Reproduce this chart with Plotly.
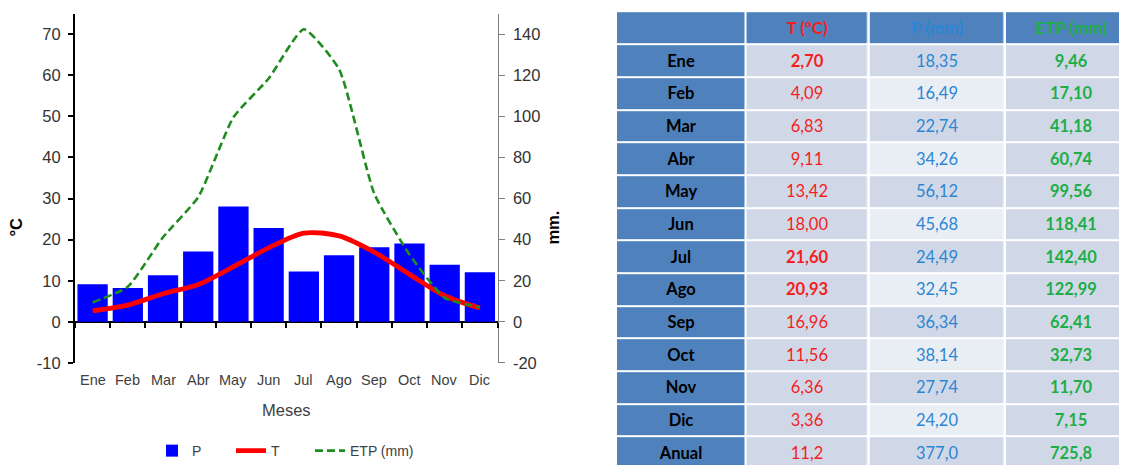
import plotly.graph_objects as go

# ---------------- data ----------------
months = ["Ene", "Feb", "Mar", "Abr", "May", "Jun", "Jul", "Ago", "Sep", "Oct", "Nov", "Dic"]
T = [2.70, 4.09, 6.83, 9.11, 13.42, 18.00, 21.60, 20.93, 16.96, 11.56, 6.36, 3.36]
P = [18.35, 16.49, 22.74, 34.26, 56.12, 45.68, 24.49, 32.45, 36.34, 38.14, 27.74, 24.20]
ETP = [9.46, 17.10, 41.18, 60.74, 99.56, 118.41, 142.40, 122.99, 62.41, 32.73, 11.70, 7.15]
annual_label = "Anual"
annual_T, annual_P, annual_ETP = 11.2, 377.0, 725.8
t_bold_months = ["Ene", "Jul", "Ago"]
header_labels = ["", "T (ºC)", "P (mm)", "ETP (mm)"]
c_ticks = list(range(-10, 71, 10))
mm_ticks = list(range(-20, 141, 20))

W, H = 1127, 466
FONT = "Liberation Sans, Arial, sans-serif"
TFONT = "Lato, Open Sans, sans-serif"

# the page adds an 8px body margin; the shot is squeezed vertically to the window
SY = H / (H + 8)


def px(rx):  # reference x pixel -> paper fraction
    return (rx - 8) / W


def py(ry):  # reference y pixel -> paper fraction
    return 1 - (ry / SY - 8) / H


# ---------------- chart geometry (reference pixels) ----------------
ax_left, ax_right = 75, 497.5
y_zero_px, px_per_10 = 322.5, 41.2
c_range = [-10, 75]
mm_range = [-20, 150]
y_bottom_px = y_zero_px - c_range[0] / 10 * px_per_10
y_top_px = y_zero_px - c_range[1] / 10 * px_per_10
xd = [px(ax_left), px(ax_right)]
yd = [py(y_bottom_px), py(y_top_px)]
zero_pos = py(y_zero_px)

fig = go.Figure()

fig.add_trace(go.Bar(
    x=months, y=P, name="P", marker=dict(color="#0000FF", line=dict(width=0)),
    xaxis="x", yaxis="y", legend="legend",
))
fig.add_trace(go.Scatter(
    x=months, y=T, name="T", mode="lines",
    line=dict(color="#FF0000", width=4.8, shape="spline", smoothing=0.8),
    xaxis="x", yaxis="y2", legend="legend2",
))
fig.add_trace(go.Scatter(
    x=months, y=ETP, name="ETP (mm)", mode="lines",
    line=dict(color="#1E8C1E", width=2.6, dash="8px,4px", shape="spline", smoothing=0.5),
    xaxis="x", yaxis="y3", legend="legend3",
))

# ---------------- table (drawn as heatmap bricks) ----------------
def fmt(v, nd=2):
    return f"{v:.{nd}f}".replace(".", ",")


def head(h):
    return f"<span style='font-size:17px'><b>{h}</b></span>"


col0 = [""] + [f"<b>{m}</b>" for m in months] + [f"<b>{annual_label}</b>"]
col1 = [head(header_labels[1])] + \
       [(f"<b>{fmt(v)}</b>" if m in t_bold_months else fmt(v)) for m, v in zip(months, T)] + [fmt(annual_T, 1)]
col2 = [head(header_labels[2])] + [fmt(v) for v in P] + [fmt(annual_P, 1)]
col3 = [head(header_labels[3])] + [f"<b>{fmt(v)}</b>" for v in ETP] + [f"<b>{fmt(annual_ETP, 1)}</b>"]

n_rows = len(col0)
# fill codes: 0 = header blue, 1 = dark band, 2 = light band
z0 = [0] * n_rows
z1 = [0] + [1] * (n_rows - 1)
z2 = [0] + [1 if i % 2 == 0 else 2 for i in range(n_rows - 1)]
z3 = [0] + [1] * (n_rows - 1)

blue, dark, light = "#4F81BD", "#D0D8E8", "#E9EDF4"
cscale = [[0, blue], [0.5, dark], [1, light]]

# table layout in reference pixels
tbl_left, tbl_top = 616, 11
col_edges = [tbl_left, 745.5, 868.8, 1005, 1136]
body_top, row_pitch = 44.5, 32.75
row_edges = [tbl_top] + [body_top + k * row_pitch for k in range(n_rows)]

text_colors = ["#000000", "#F41E1E", "#2B86D3", "#1DAE47"]
cols = [col0, col1, col2, col3]
zs = [z0, z1, z2, z3]

for j in range(4):
    fig.add_trace(go.Heatmap(
        x=col_edges[j:j + 2], y=row_edges, z=[[v] for v in zs[j]],
        text=[[t] for t in cols[j]], texttemplate="%{text}",
        textfont=dict(family=TFONT, size=16.5, color=text_colors[j]),
        colorscale=cscale, zmin=0, zmax=2, showscale=False,
        xgap=2.5, ygap=2, hoverinfo="skip", showlegend=False,
        xaxis="x3", yaxis="y4",
    ))

# month labels along the bottom of the plot, placed through the category axis
month_labels = [
    dict(text=m, x=m, xref="x", y=py(381), yref="paper", yanchor="middle", xanchor="center",
         showarrow=False, font=dict(family=FONT, size=14.5, color="#404040"))
    for m in months
]


def leg(x_ref):
    return dict(
        orientation="h", x=px(x_ref), xanchor="left", y=py(452), yanchor="middle",
        font=dict(family=FONT, size=14, color="#404040"), bgcolor="rgba(0,0,0,0)",
    )


# ---------------- layout ----------------
fig.update_layout(
    width=W, height=H,
    margin=dict(l=0, r=0, t=0, b=0),
    paper_bgcolor="white", plot_bgcolor="rgba(0,0,0,0)",
    font=dict(family=FONT, color="#333333"),
    bargap=0.14,
    showlegend=True,
    legend=leg(152), legend2=leg(231), legend3=leg(310),
    xaxis=dict(
        domain=xd, type="category", categoryarray=months, range=[-0.5, 11.5],
        anchor="free", position=zero_pos,
        ticks="outside", tickson="boundaries", ticklen=5, tickwidth=1.5, tickcolor="black",
        showticklabels=False, showline=False, showgrid=False, zeroline=False,
    ),
    yaxis=dict(
        domain=yd, range=mm_range, side="right", anchor="x",
        tickmode="array", tickvals=mm_ticks, ticktext=[str(v) for v in mm_ticks],
        ticks="outside", ticklen=6, tickcolor="#808080", tickwidth=1,
        showline=True, linecolor="#808080", linewidth=1.2, ticklabelstandoff=5,
        showgrid=False, zeroline=True, zerolinecolor="black", zerolinewidth=2,
        tickfont=dict(family=FONT, size=16.5, color="#333333"),
    ),
    yaxis2=dict(
        domain=yd, range=c_range, side="left", anchor="x", overlaying="y",
        tickmode="array", tickvals=c_ticks, ticktext=[str(v) for v in c_ticks],
        ticks="outside", ticklen=5, tickcolor="black", tickwidth=1.5,
        showline=True, linecolor="black", linewidth=2, ticklabelstandoff=4,
        showgrid=False, zeroline=False,
        tickfont=dict(family=FONT, size=16.5, color="#333333"),
    ),
    yaxis3=dict(
        domain=yd, range=mm_range, overlaying="y", anchor="x", side="right",
        visible=False, showgrid=False, zeroline=False,
    ),
    xaxis3=dict(
        domain=[px(tbl_left), 1.0], range=[tbl_left, W + 8], anchor="y4", visible=False,
        showgrid=False, zeroline=False,
    ),
    yaxis4=dict(
        domain=[0, py(tbl_top)], range=[(H + 8) * SY, tbl_top], anchor="x3",
        visible=False, showgrid=False, zeroline=False,
    ),
    annotations=month_labels + [
        dict(text="<b>°C</b>", x=px(16), y=py(228), xref="paper", yref="paper",
             xanchor="center", yanchor="middle",
             textangle=-90, showarrow=False, font=dict(family=FONT, size=16.5, color="black")),
        dict(text="<b>mm.</b>", x=px(553), y=py(228), xref="paper", yref="paper",
             xanchor="center", yanchor="middle",
             textangle=-90, showarrow=False, font=dict(family=FONT, size=16.5, color="black")),
        dict(text="Meses", x=px((ax_left + ax_right) / 2), y=py(411), xref="paper", yref="paper",
             xanchor="center", yanchor="middle",
             showarrow=False, font=dict(family=FONT, size=16.5, color="#404040")),
    ],
)

fig.write_html("out.html")
